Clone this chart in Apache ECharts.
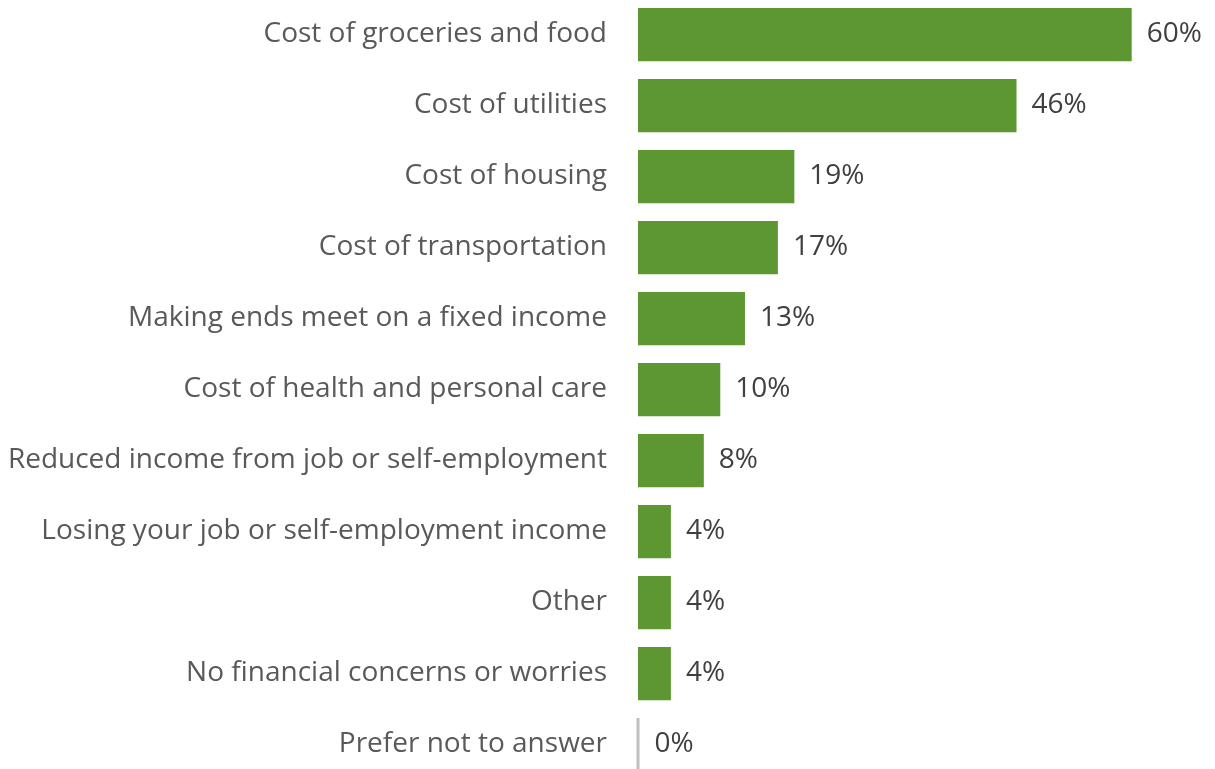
<!DOCTYPE html>
<html>
<head>
<meta charset="utf-8">
<script src="https://cdn.jsdelivr.net/npm/echarts@6/dist/echarts.min.js"></script>
<style>
  html, body { margin: 0; padding: 0; background: #ffffff; }
  #chart { width: 1215px; height: 769px; }
</style>
</head>
<body>
<div id="chart"></div>
<script>
// Main financial concerns, share of respondents (%)
const categories = [
  'Cost of groceries and food',
  'Cost of utilities',
  'Cost of housing',
  'Cost of transportation',
  'Making ends meet on a fixed income',
  'Cost of health and personal care',
  'Reduced income from job or self-employment',
  'Losing your job or self-employment income',
  'Other',
  'No financial concerns or worries',
  'Prefer not to answer'
];
const shares = [60, 46, 19, 17, 13, 10, 8, 4, 4, 4, 0];

const barColor = '#5c9732';
const fontFamily = '"Open Sans", "Noto Sans", sans-serif';

const chart = echarts.init(document.getElementById('chart'), null, { renderer: 'canvas' });

chart.setOption({
  animation: false,
  backgroundColor: '#ffffff',
  // plot area runs slightly past the bottom edge, so the last row is clipped
  grid: {
    left: 638, right: 1, top: -1, height: 781,
    containLabel: false,
    outerBoundsMode: 'none'
  },
  xAxis: {
    type: 'value',
    min: 0,
    max: 70,
    show: false
  },
  yAxis: {
    type: 'category',
    data: categories,
    inverse: true,
    axisLine: { show: false },
    axisTick: { show: false },
    axisLabel: {
      margin: 31,
      fontSize: 28,
      color: '#595959',
      fontFamily: fontFamily
    }
  },
  series: [{
    type: 'bar',
    barCategoryGap: '25%',
    data: shares.map(v => v === 0
      ? { value: v, itemStyle: { color: '#bfbfbf', borderColor: '#bfbfbf', borderWidth: 3 } }
      : v),
    itemStyle: { color: barColor },
    label: {
      show: true,
      position: 'right',
      distance: 15,
      formatter: p => p.value + '%',
      fontSize: 28,
      color: '#404040',
      fontFamily: fontFamily
    }
  }]
});
</script>
</body>
</html>
